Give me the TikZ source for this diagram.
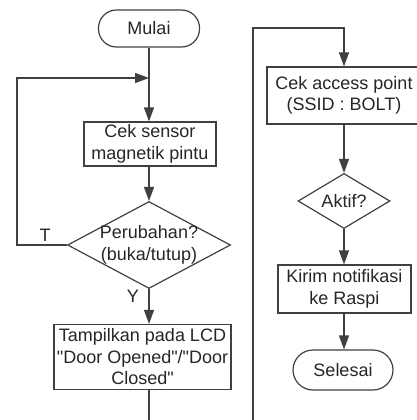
\documentclass[tikz,border=0pt]{standalone}
\usepackage{fontspec}
\newfontfamily\lsans{Liberation Sans}
\usetikzlibrary{shapes.geometric,arrows.meta}
\begin{document}
\begin{tikzpicture}[x=1pt,y=-1pt,
  every node/.style={font=\lsans\fontsize{18}{21.5}\selectfont, text=black!85, inner sep=0pt, align=center},
  ln/.style={draw=black!75, line width=1.2pt},
  arr/.style={ln, -{Triangle[length=14pt,width=10pt]}},
  procbox/.style={ln, rectangle},
  term/.style={ln, rectangle, rounded corners=18pt},
  dec/.style={ln, diamond}
]
\useasboundingbox (0,0) rectangle (416,420);
% left column
\node[term, minimum width=101pt, minimum height=37pt] (mulai) at (149,28.5) {Mulai};
\coordinate (j) at (149,78);
\node[procbox, minimum width=132pt, minimum height=44pt] (cek) at (150,144) {Cek sensor\\magnetik pintu};
\node[dec, minimum width=163pt, minimum height=87pt, label={[align=center]center:Perubahan?\\(buka/tutup)}] (perub) at (149,245) {};
\node[procbox, minimum width=177pt, minimum height=65pt] (lcd) at (142.5,357) {Tampilkan pada LCD\\"Door Opened"/"Door\\Closed"};
\coordinate (lcdend) at (149,421);
\coordinate (loopc) at (17,245);
% right column
\coordinate (rbot) at (253,421);
\coordinate (rtop) at (253,28);
\node[procbox, minimum width=154pt, minimum height=57pt] (access) at (344,95.5) {Cek access point\\(SSID : BOLT)};
\node[dec, minimum width=92pt, minimum height=55pt, label={center:Aktif?}] (aktif) at (344,201) {};
\node[procbox, minimum width=133pt, minimum height=48pt] (kirim) at (344.5,289) {Kirim notifikasi\\ke Raspi};
\node[term, minimum width=100pt, minimum height=40pt, rounded corners=20pt] (selesai) at (343,370) {Selesai};
% connectors
\draw[ln] (mulai.south) -- (j);
\draw[arr] (j) -- (cek.north -| j);
\draw[arr] (cek.south -| j) -- (perub.north);
\draw[arr] (perub.west) -- (loopc) |- (j);
\node[anchor=base] (tlab) at (45,241) {T};
\draw[arr] (perub.south) -- (lcd.north -| perub.south);
\node (ylab) at (133,296) {Y};
\draw[ln] (lcd.south -| lcdend) -- (lcdend);
\draw[arr] (rbot) -- (rtop) -| (access.north -| aktif.north);
\draw[arr] (access.south -| aktif.north) -- (aktif.north);
\draw[arr] (aktif.south) -- (kirim.north -| aktif.south);
\draw[arr] (kirim.south -| aktif.south) -- (selesai.north -| aktif.south);
\end{tikzpicture}
\end{document}
